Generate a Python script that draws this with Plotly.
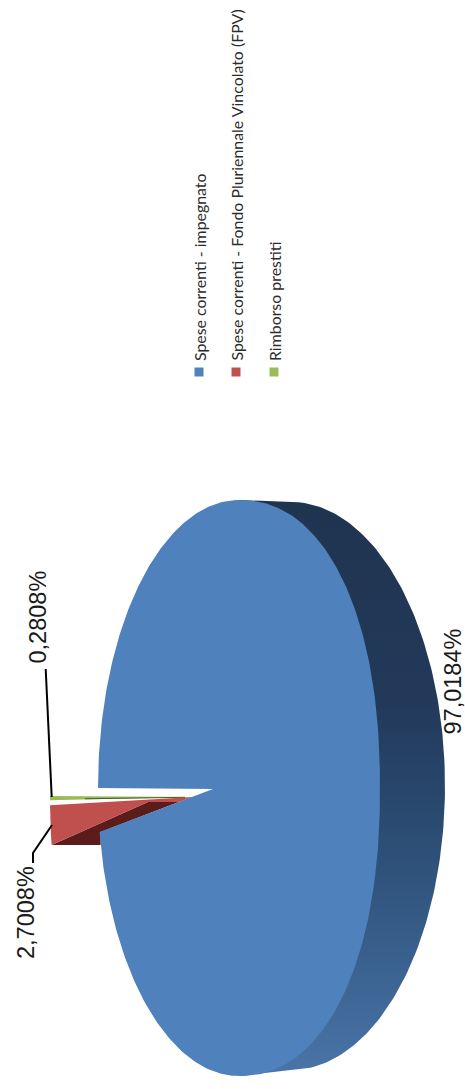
import numpy as np
import plotly.graph_objects as go

categories = ["Spese correnti - impegnato", "Spese correnti - Fondo Pluriennale Vincolato (FPV)", "Rimborso prestiti"]
values = [97.0184, 2.7008, 0.2808]
face_colors = ["#4f81bd", "#c0504d", "#9bbb59"]
side_red = "#5c1c1a"
side_green = "#4a5e28"

# Pie geometry in page pixels (image is a 3D pie rotated by a quarter turn)
CX, CY, RX, RY = 239.0, 788.0, 141.0, 288.0
BACK_CX, BACK_CY, BACK_RX, BACK_RY = 291.0, 786.0, 154.0, 284.0
K = 0.82  # foreshortening of the small slices near the viewer
APEX = (213.0, 789.0)
EXPLODED_APEX = (193.0, 797.0)
EXPLODE_X = -48.0
GREEN_DY, RED_DY = 8.0, 13.0
RIGHT_POWER = 2.2  # the far half of the face bulges a little under perspective


def ell(cx, cy, rx, ry, t):
    t = np.asarray(t, dtype=float)
    return cx - rx * np.cos(t), cy + ry * np.sin(t)


def face(cx, cy, rx, ry, t):
    t = np.asarray(t, dtype=float)
    c, s = np.cos(t), np.sin(t)
    e = np.where(c < 0, 2.0 / RIGHT_POWER, 1.0)
    return cx - rx * np.sign(c) * np.abs(c) ** e, cy + ry * np.sign(s) * np.abs(s) ** e


def angle(pct):
    return 2 * np.pi * pct / 100 * K


fig = go.Figure()


def poly(x, y, color, **kw):
    fig.add_trace(go.Scatter(x=list(x), y=list(y), mode="lines", fill="toself", fillcolor=color,
                             line=dict(width=0, color=color), hoverinfo="skip", showlegend=False, **kw))


blue, red, green = values
gap = angle(red + green)

# Side band of the big slice
tb = np.linspace(np.pi / 2 + 0.05, 1.5 * np.pi - 0.05, 160)
bx, by = ell(BACK_CX, BACK_CY, BACK_RX, BACK_RY, tb)
sx = np.r_[CX, bx, CX]
sy = np.r_[CY + RY, by, CY - RY]
fig.add_trace(go.Scatter(
    x=sx, y=sy, mode="lines", fill="toself", line=dict(width=0), hoverinfo="skip", showlegend=False,
    fillgradient=dict(type="vertical", start=CY - RY, stop=CY + RY,
                      colorscale=[[0, "#1f344f"], [0.35, "#22395a"], [0.55, "#2a4a70"],
                                  [0.75, "#365c88"], [1, "#4a75a8"]])))

# Exploded red slice: side then face
nx, ny = ell(CX, CY, RX, RY, gap)  # where the blue face's notch meets the rim
t0r, t1r = angle(green), angle(green + red)
rx_pts, ry_pts = ell(CX + EXPLODE_X, CY + RED_DY, RX, RY, np.linspace(t0r, t1r, 12))
ex, ey = rx_pts[-1], ry_pts[-1]
ridge_y = EXPLODED_APEX[1] + 5.0
ridge_near = (APEX[0] + (nx - APEX[0]) * (ridge_y - APEX[1]) / (ny - APEX[1]), ridge_y)
ridge_far = (EXPLODED_APEX[0] - 45.0, ridge_y)
poly([ex, nx + 1, nx + 1, ridge_near[0], ridge_far[0]],
     [ey, ey, ny, ridge_near[1], ridge_far[1]], side_red)
poly(np.r_[rx_pts, ridge_far[0], ridge_near[0], EXPLODED_APEX[0]],
     np.r_[ry_pts, ridge_far[1], ridge_near[1], EXPLODED_APEX[1]], face_colors[1])

# Exploded green slice
gx, gy = ell(CX + EXPLODE_X, CY + GREEN_DY, RX, RY, np.linspace(0, angle(green), 4))
poly(np.r_[EXPLODED_APEX[0], gx], np.r_[EXPLODED_APEX[1], gy], face_colors[2])
fig.add_trace(go.Scatter(x=[gx[-1] + 35, EXPLODED_APEX[0] - 8], y=[gy[-1] - 1.4, EXPLODED_APEX[1] + 0.3],
                         mode="lines", line=dict(color=side_green, width=1), hoverinfo="skip", showlegend=False))

# Big blue face
ta = np.linspace(gap, 2 * np.pi, 400)
fx, fy = face(CX, CY, RX, RY, ta)
poly(np.r_[APEX[0], fx], np.r_[APEX[1], fy], face_colors[0])

# Leader lines
lead_x = [[45.7, 51.7], [52.0, 33.0, 33.0]]
lead_y = [[669.0, 797.0], [825.0, 853.0, 863.0]]
for lx, ly in zip(lead_x, lead_y):
    fig.add_trace(go.Scatter(x=lx, y=ly, mode="lines", line=dict(color="#000000", width=2),
                             hoverinfo="skip", showlegend=False))

# Legend squares
LEG_X = [199.0, 236.0, 274.0]
LEG_Y = 372.0
fig.add_trace(go.Scatter(x=LEG_X, y=[LEG_Y] * 3, mode="markers", hoverinfo="skip", showlegend=False,
                         marker=dict(symbol="square", size=9, color=face_colors)))

anns = []
for name, x in zip(categories, LEG_X):
    anns.append(dict(x=x, y=363, text=name, textangle=-90, showarrow=False, xanchor="center", yanchor="bottom",
                     font=dict(family="Lato", size=15.9, color="#2b2b2b")))

# Data labels
LABEL_POS = [(452.0, 681.5), (26.0, 913.0), (37.5, 617.0)]
for v, (x, y) in zip(values, LABEL_POS):
    txt = f"{v:.4f}".replace(".", ",") + "%"
    anns.append(dict(x=x, y=y, text=txt, textangle=-90, showarrow=False, xanchor="center", yanchor="middle",
                     font=dict(family="Liberation Sans", size=23.5, color="#1a1a1a")))

fig.update_layout(
    width=465, height=1089, margin=dict(l=0, r=0, t=0, b=0), paper_bgcolor="white", plot_bgcolor="white",
    xaxis=dict(range=[0, 465], visible=False, fixedrange=True),
    yaxis=dict(range=[1089, 0], visible=False, fixedrange=True),
    annotations=anns, showlegend=False,
)
fig.write_html("out.html", config={"displayModeBar": False},
               post_script="document.body.style.margin='0';")
